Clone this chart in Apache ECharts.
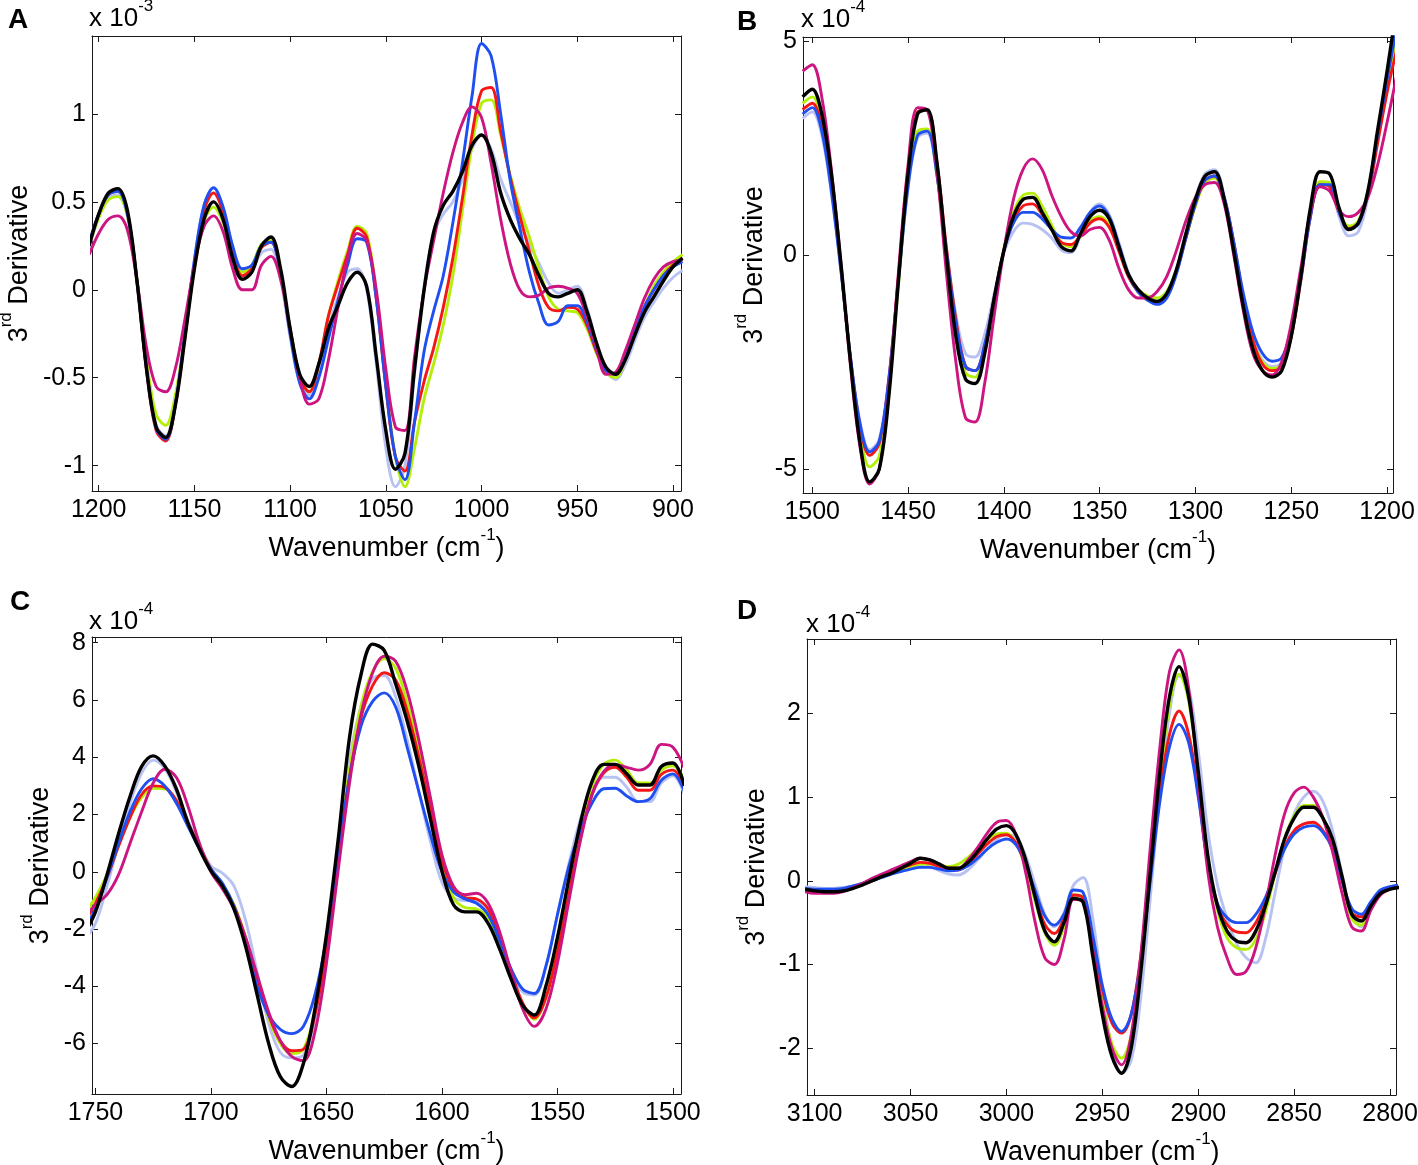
<!DOCTYPE html>
<html>
<head>
<meta charset="utf-8">
<script src="https://cdn.jsdelivr.net/npm/echarts@6/dist/echarts.min.js"></script>
<style>
html,body{margin:0;padding:0;background:#ffffff;}
#chart{width:1418px;height:1165px;}
</style>
</head>
<body>
<div id="chart"></div>
<script>
// ---------------- DATA ----------------
// Panel A (x 10^-3), wavenumber grid
const A_X = [1205,1200,1195,1190,1185,1180,1175,1170,1165,1160,
  1155,1150,1145,1140,1135,1130,1125,1120,1115,1110,
  1105,1100,1095,1090,1085,1080,1075,1070,1065,1060,
  1055,1050,1045,1040,1035,1030,1025,1020,1015,1010,
  1005,1000,995,990,985,980,975,970,965,960,
  955,950,945,940,935,930,925,920,915,910,
  905,900,895];
const A_BLACK = [0.25,0.43,0.55,0.575,0.45,0.05,-0.45,-0.78,-0.84,-0.66,
  -0.28,0.12,0.40,0.50,0.40,0.18,0.06,0.10,0.25,0.30,
  0.12,-0.22,-0.48,-0.55,-0.42,-0.22,-0.09,0.04,0.10,0.02,
  -0.38,-0.80,-1.02,-0.93,-0.45,0.00,0.33,0.48,0.56,0.67,
  0.82,0.88,0.78,0.55,0.40,0.29,0.20,0.08,-0.02,-0.04,
  -0.02,0.00,-0.12,-0.30,-0.44,-0.48,-0.40,-0.26,-0.13,-0.04,
  0.05,0.13,0.18];
const A_LIGHTBLUE = [0.24,0.41,0.52,0.54,0.42,0.04,-0.44,-0.77,-0.83,-0.64,
  -0.25,0.17,0.48,0.58,0.47,0.24,0.11,0.12,0.21,0.23,
  0.06,-0.27,-0.53,-0.60,-0.45,-0.22,-0.04,0.10,0.12,0.00,
  -0.42,-0.90,-1.12,-1.00,-0.48,0.02,0.32,0.43,0.50,0.63,
  0.80,0.88,0.80,0.63,0.50,0.37,0.26,0.15,0.04,-0.02,
  0.00,0.02,-0.10,-0.30,-0.46,-0.51,-0.43,-0.29,-0.16,-0.07,
  0.01,0.07,0.11];
const A_BLUE = [0.27,0.43,0.54,0.56,0.43,0.05,-0.45,-0.79,-0.85,-0.65,
  -0.25,0.17,0.48,0.58,0.47,0.25,0.12,0.14,0.25,0.27,
  0.10,-0.25,-0.53,-0.62,-0.50,-0.28,-0.06,0.14,0.29,0.27,
  -0.05,-0.55,-0.95,-1.08,-0.75,-0.35,-0.12,0.08,0.38,0.72,
  1.10,1.40,1.33,1.00,0.62,0.35,0.10,-0.08,-0.20,-0.18,
  -0.09,-0.09,-0.18,-0.34,-0.46,-0.48,-0.38,-0.24,-0.10,0.00,
  0.08,0.13,0.16];
const A_RED = [0.26,0.43,0.54,0.56,0.44,0.05,-0.46,-0.80,-0.86,-0.66,
  -0.27,0.14,0.45,0.55,0.44,0.21,0.08,0.12,0.24,0.27,
  0.10,-0.24,-0.50,-0.58,-0.42,-0.15,0.03,0.20,0.35,0.30,
  -0.05,-0.55,-0.95,-1.03,-0.75,-0.52,-0.33,-0.10,0.18,0.52,
  0.88,1.13,1.15,0.90,0.64,0.42,0.22,0.02,-0.10,-0.12,
  -0.10,-0.11,-0.20,-0.35,-0.46,-0.48,-0.38,-0.24,-0.10,0.00,
  0.08,0.14,0.18];
const A_GREEN = [0.25,0.41,0.51,0.53,0.42,0.06,-0.40,-0.71,-0.77,-0.60,
  -0.26,0.12,0.39,0.47,0.38,0.19,0.10,0.14,0.26,0.28,
  0.10,-0.24,-0.50,-0.58,-0.42,-0.15,0.05,0.22,0.36,0.32,
  -0.02,-0.52,-0.95,-1.12,-0.90,-0.62,-0.42,-0.20,0.08,0.45,
  0.82,1.06,1.08,0.88,0.65,0.46,0.30,0.12,-0.04,-0.11,
  -0.12,-0.13,-0.22,-0.36,-0.47,-0.50,-0.40,-0.25,-0.10,0.02,
  0.10,0.16,0.20];
const A_MAGENTA = [0.20,0.32,0.40,0.42,0.34,0.05,-0.33,-0.55,-0.58,-0.45,
  -0.17,0.14,0.36,0.42,0.33,0.12,0.00,0.00,0.14,0.19,
  0.06,-0.22,-0.50,-0.65,-0.62,-0.40,-0.10,0.18,0.32,0.28,
  0.00,-0.45,-0.78,-0.80,-0.38,0.00,0.28,0.55,0.78,0.95,
  1.04,0.98,0.72,0.40,0.15,0.00,-0.04,-0.03,0.01,0.02,
  0.01,-0.02,-0.15,-0.33,-0.48,-0.47,-0.35,-0.20,-0.05,0.06,
  0.13,0.16,0.17];
const A_XTICKS = [900,950,1000,1050,1100,1150,1200];
const A_YTICKS = [-1,-0.5,0,0.5,1];

// Panel B (x 10^-4)
const B_X = [1505,1500,1495,1490,1485,1480,1475,1470,1465,1460,
  1455,1450,1445,1440,1435,1430,1425,1420,1415,1410,
  1405,1400,1395,1390,1385,1380,1375,1370,1365,1360,
  1355,1350,1345,1340,1335,1330,1325,1320,1315,1310,
  1305,1300,1295,1290,1285,1280,1275,1270,1265,1260,
  1255,1250,1245,1240,1235,1230,1225,1220,1215,1210,
  1205,1200,1195];
const B_BLACK = [3.7,3.88,3.3,1.9,-0.2,-2.5,-4.4,-5.3,-5.0,-3.3,
  -0.6,1.9,3.3,3.4,2.2,0.0,-1.9,-2.9,-3.0,-2.3,
  -1.0,0.1,0.9,1.3,1.35,1.0,0.6,0.2,0.1,0.5,
  0.9,1.05,0.85,0.2,-0.45,-0.8,-1.0,-1.08,-0.9,-0.35,
  0.5,1.3,1.85,1.95,1.3,0.1,-1.2,-2.2,-2.7,-2.85,
  -2.7,-1.9,-0.5,1.1,1.95,1.9,1.1,0.6,0.75,1.5,
  2.9,4.3,5.8];
const B_MAGENTA = [4.3,4.45,3.7,2.0,-0.2,-2.6,-4.5,-5.35,-5.0,-3.2,
  -0.4,2.1,3.45,3.4,2.0,-0.4,-2.5,-3.8,-3.9,-3.0,
  -1.4,0.1,1.3,2.0,2.25,2.0,1.4,0.9,0.55,0.45,
  0.6,0.65,0.35,-0.3,-0.8,-1.0,-1.0,-0.85,-0.5,0.1,
  0.8,1.35,1.65,1.7,1.2,0.0,-1.3,-2.3,-2.7,-2.8,
  -2.5,-1.6,-0.3,1.0,1.6,1.5,1.05,0.9,1.0,1.35,
  2.1,3.1,4.2];
const B_RED = [3.4,3.55,3.0,1.6,-0.3,-2.4,-4.0,-4.68,-4.4,-2.9,
  -0.5,2.0,3.35,3.4,2.2,0.2,-1.5,-2.6,-2.7,-2.1,
  -1.0,0.1,0.8,1.15,1.2,0.95,0.6,0.3,0.25,0.45,
  0.75,0.85,0.65,0.1,-0.5,-0.85,-1.05,-1.1,-0.95,-0.4,
  0.4,1.2,1.75,1.85,1.35,0.3,-1.0,-2.0,-2.55,-2.7,
  -2.6,-1.9,-0.6,0.9,1.65,1.6,1.0,0.62,0.75,1.4,
  2.6,3.8,4.8];
const B_GREEN = [3.55,3.7,3.15,1.75,-0.3,-2.5,-4.2,-4.95,-4.7,-3.1,
  -0.7,1.7,2.9,2.95,1.9,0.0,-1.7,-2.75,-2.85,-2.2,
  -1.0,0.15,1.0,1.4,1.45,1.15,0.7,0.3,0.2,0.45,
  0.8,0.9,0.7,0.15,-0.45,-0.8,-0.95,-1.0,-0.85,-0.35,
  0.4,1.15,1.7,1.8,1.3,0.2,-1.05,-2.0,-2.5,-2.65,
  -2.55,-1.8,-0.45,1.0,1.72,1.7,1.0,0.68,0.8,1.5,
  2.8,4.0,5.1];
const B_BLUE = [3.3,3.45,2.9,1.5,-0.35,-2.4,-3.95,-4.6,-4.35,-2.9,
  -0.6,1.6,2.8,2.9,1.9,0.1,-1.6,-2.6,-2.7,-2.1,
  -1.0,0.1,0.75,1.0,1.0,0.85,0.6,0.42,0.4,0.65,
  1.0,1.15,0.9,0.25,-0.45,-0.85,-1.05,-1.15,-1.0,-0.45,
  0.4,1.2,1.75,1.85,1.35,0.3,-0.9,-1.8,-2.3,-2.48,
  -2.4,-1.75,-0.55,0.9,1.65,1.65,1.0,0.6,0.72,1.45,
  2.8,4.1,5.3];
const B_LIGHTBLUE = [3.2,3.35,2.8,1.45,-0.4,-2.4,-3.9,-4.55,-4.3,-2.85,
  -0.6,1.55,2.75,2.85,1.9,0.15,-1.4,-2.3,-2.38,-1.85,
  -0.9,0.05,0.55,0.75,0.72,0.6,0.4,0.12,0.06,0.45,
  1.0,1.2,0.95,0.3,-0.4,-0.85,-1.05,-1.15,-1.0,-0.4,
  0.5,1.35,1.9,2.0,1.4,0.25,-1.0,-1.95,-2.45,-2.6,
  -2.5,-1.8,-0.5,1.0,1.7,1.65,0.9,0.45,0.55,1.35,
  2.8,4.2,5.3];
const B_XTICKS = [1200,1250,1300,1350,1400,1450,1500];
const B_YTICKS = [-5,0,5];

// Panel C (x 10^-4)
const C_X = [1755,1750,1745,1740,1735,1730,1725,1720,1715,1710,
  1705,1700,1695,1690,1685,1680,1675,1670,1665,1660,
  1655,1650,1645,1640,1635,1630,1625,1620,1615,1610,
  1605,1600,1595,1590,1585,1580,1575,1570,1565,1560,
  1555,1550,1545,1540,1535,1530,1525,1520,1515,1510,
  1505,1500,1495];
const C_BLACK = [-2.2,-1.4,-0.1,1.33,2.64,3.68,4.05,3.7,2.9,1.72,
  0.8,0.03,-0.5,-1.3,-2.6,-4.3,-6.0,-7.15,-7.5,-6.7,
  -4.8,-2.2,1.07,4.7,6.9,7.95,7.73,6.55,5.25,3.68,
  1.85,0.03,-1.15,-1.4,-1.4,-1.8,-2.7,-3.76,-4.67,-5.0,
  -4.0,-2.3,-0.23,1.72,3.16,3.75,3.75,3.42,3.03,3.03,
  3.68,3.8,3.0];
const C_LIGHTBLUE = [-2.4,-1.8,-0.5,1.0,2.4,3.45,3.9,3.6,2.8,1.8,
  0.9,0.2,-0.05,-0.5,-1.7,-3.5,-5.3,-6.3,-6.5,-6.4,
  -5.2,-2.6,0.8,3.9,5.8,6.75,6.85,6.1,4.6,2.8,
  1.07,-0.37,-0.9,-1.0,-1.0,-1.5,-2.5,-3.5,-4.2,-4.3,
  -3.3,-1.5,0.3,1.85,2.9,3.3,3.3,2.95,2.45,2.45,
  3.1,3.35,2.7];
const C_BLUE = [-2.0,-1.3,-0.2,1.0,2.1,2.9,3.25,3.0,2.4,1.6,
  0.8,0.1,-0.4,-1.2,-2.5,-4.0,-5.0,-5.5,-5.65,-5.4,
  -4.3,-2.3,0.6,3.3,5.1,5.95,6.25,5.75,4.33,2.8,
  1.3,0.0,-0.7,-0.95,-1.1,-1.5,-2.4,-3.4,-4.1,-4.25,
  -3.3,-1.5,0.2,1.46,2.4,2.9,2.92,2.65,2.45,2.55,
  3.2,3.42,2.8];
const C_RED = [-1.8,-1.1,-0.2,0.9,1.9,2.7,3.0,2.95,2.5,1.7,
  0.9,0.1,-0.5,-1.2,-2.3,-3.7,-5.0,-5.9,-6.25,-6.2,
  -5.0,-2.7,0.3,3.3,5.4,6.5,6.95,6.7,5.6,4.0,
  2.2,0.4,-0.6,-0.9,-0.95,-1.3,-2.3,-3.5,-4.6,-5.1,
  -4.4,-2.8,-0.8,1.2,2.7,3.45,3.65,3.3,2.85,2.85,
  3.4,3.55,3.0];
const C_GREEN = [-1.5,-0.9,-0.1,0.9,1.9,2.6,2.92,2.9,2.45,1.65,
  0.85,0.1,-0.45,-1.15,-2.3,-3.7,-5.1,-6.0,-6.35,-6.2,
  -4.9,-2.5,0.6,3.6,5.8,7.0,7.45,7.1,5.9,4.2,
  2.3,0.4,-0.9,-1.25,-1.3,-1.6,-2.5,-3.6,-4.6,-5.15,
  -4.4,-2.7,-0.6,1.4,3.0,3.75,3.9,3.55,3.1,3.1,
  3.55,3.7,3.2];
const C_MAGENTA = [-1.6,-1.15,-0.8,-0.1,1.0,2.1,3.1,3.58,3.3,2.3,
  1.0,0.0,-0.6,-1.3,-2.3,-3.6,-4.9,-5.9,-6.45,-6.6,
  -5.6,-3.2,0.0,3.1,5.5,6.95,7.53,7.35,6.3,4.6,
  2.6,0.6,-0.5,-0.8,-0.75,-1.1,-2.1,-3.5,-4.8,-5.4,
  -4.8,-3.2,-1.0,1.1,2.7,3.5,3.75,3.65,3.55,3.75,
  4.45,4.35,3.6];
const C_XTICKS = [1500,1550,1600,1650,1700,1750];
const C_YTICKS = [-6,-4,-2,0,2,4,6,8];

// Panel D (x 10^-4)
const D_X = [3105,3100,3095,3090,3085,3080,3075,3070,3065,3060,
  3055,3050,3045,3040,3035,3030,3025,3020,3015,3010,
  3005,3000,2995,2990,2985,2980,2975,2970,2965,2960,
  2955,2950,2945,2940,2935,2930,2925,2920,2915,2910,
  2905,2900,2895,2890,2885,2880,2875,2870,2865,2860,
  2855,2850,2845,2840,2835,2830,2825,2820,2815,2810,
  2805,2800,2795];
const D_BLACK = [-0.10,-0.12,-0.13,-0.13,-0.12,-0.09,-0.05,0.00,0.05,0.09,
  0.15,0.21,0.27,0.25,0.20,0.15,0.15,0.22,0.35,0.50,
  0.62,0.66,0.55,0.25,-0.20,-0.60,-0.73,-0.50,-0.21,-0.26,
  -0.90,-1.60,-2.10,-2.30,-2.00,-1.10,0.10,1.30,2.20,2.56,
  2.20,1.30,0.30,-0.30,-0.60,-0.72,-0.74,-0.60,-0.30,0.10,
  0.50,0.75,0.88,0.88,0.75,0.50,0.05,-0.40,-0.48,-0.30,
  -0.15,-0.10,-0.08];
const D_MAGENTA = [-0.13,-0.15,-0.15,-0.15,-0.13,-0.08,-0.03,0.03,0.08,0.13,
  0.18,0.23,0.27,0.25,0.20,0.15,0.15,0.25,0.40,0.57,
  0.70,0.72,0.55,0.10,-0.50,-0.92,-1.00,-0.70,-0.22,-0.25,
  -0.85,-1.50,-2.00,-2.20,-1.85,-0.90,0.40,1.60,2.50,2.76,
  2.30,1.20,0.10,-0.55,-0.92,-1.12,-1.08,-0.80,-0.30,0.30,
  0.80,1.05,1.12,1.00,0.75,0.35,-0.15,-0.55,-0.60,-0.35,
  -0.17,-0.10,-0.08];
const D_RED = [-0.11,-0.12,-0.12,-0.12,-0.11,-0.08,-0.04,0.00,0.05,0.10,
  0.15,0.19,0.22,0.21,0.17,0.13,0.13,0.20,0.32,0.44,
  0.53,0.55,0.45,0.20,-0.18,-0.52,-0.63,-0.45,-0.17,-0.21,
  -0.75,-1.30,-1.70,-1.82,-1.60,-0.90,0.10,1.05,1.75,2.03,
  1.75,1.05,0.20,-0.30,-0.52,-0.61,-0.62,-0.50,-0.25,0.08,
  0.40,0.60,0.68,0.70,0.60,0.40,0.00,-0.38,-0.43,-0.28,
  -0.13,-0.08,-0.06];
const D_GREEN = [-0.11,-0.12,-0.12,-0.12,-0.10,-0.07,-0.03,0.01,0.05,0.09,
  0.13,0.17,0.20,0.20,0.18,0.17,0.20,0.28,0.38,0.49,
  0.56,0.57,0.45,0.15,-0.25,-0.62,-0.77,-0.55,-0.17,-0.20,
  -0.80,-1.45,-1.95,-2.12,-1.85,-1.05,0.05,1.20,2.10,2.47,
  2.15,1.25,0.25,-0.35,-0.68,-0.80,-0.82,-0.70,-0.38,0.08,
  0.50,0.78,0.90,0.90,0.75,0.48,0.02,-0.45,-0.53,-0.32,
  -0.15,-0.09,-0.07];
const D_BLUE = [-0.09,-0.10,-0.10,-0.10,-0.09,-0.06,-0.03,0.00,0.04,0.08,
  0.11,0.14,0.16,0.16,0.14,0.12,0.13,0.18,0.27,0.38,
  0.46,0.50,0.43,0.20,-0.12,-0.42,-0.53,-0.40,-0.11,-0.14,
  -0.65,-1.25,-1.65,-1.80,-1.60,-0.95,0.00,0.95,1.60,1.87,
  1.65,1.00,0.20,-0.27,-0.44,-0.50,-0.50,-0.40,-0.20,0.10,
  0.38,0.56,0.64,0.66,0.58,0.38,0.00,-0.33,-0.40,-0.25,
  -0.11,-0.07,-0.05];
const D_LIGHTBLUE = [-0.07,-0.08,-0.09,-0.09,-0.08,-0.06,-0.03,0.01,0.05,0.09,
  0.13,0.17,0.19,0.17,0.12,0.08,0.07,0.13,0.25,0.38,
  0.50,0.55,0.52,0.30,-0.05,-0.40,-0.55,-0.38,-0.05,0.04,
  -0.45,-1.30,-2.00,-2.30,-2.15,-1.40,-0.20,1.05,2.00,2.45,
  2.30,1.55,0.60,-0.05,-0.45,-0.75,-0.92,-0.98,-0.70,-0.15,
  0.40,0.80,1.00,1.07,0.95,0.60,0.08,-0.42,-0.55,-0.35,
  -0.15,-0.08,-0.05];
const D_XTICKS = [2800,2850,2900,2950,3000,3050,3100];
const D_YTICKS = [-2,-1,0,1,2];

// ---------------- STYLE / LAYOUT ----------------
const FONT = "'Liberation Sans', Arial, Helvetica, sans-serif";
const ORDER = ['lightblue','green','red','blue','magenta','black'];
const COLORS = {lightblue:'#b8c2f2', green:'#b4ef0a', red:'#f51616', blue:'#1f4ff0', magenta:'#cc1580', black:'#000000'};
const WIDTHS = {lightblue:2.9, green:2.9, red:2.9, blue:2.9, magenta:2.9, black:3.4};
const FRAME = '#1a1a1a';

const PANELS = [
  {letter:'A', exp:'-3', x:A_X, ys:{lightblue:A_LIGHTBLUE,green:A_GREEN,red:A_RED,blue:A_BLUE,magenta:A_MAGENTA,black:A_BLACK},
   xTicks:A_XTICKS, yTicks:A_YTICKS, xMin:895.8, xMax:1203.5, yMin:-1.144, yMax:1.443,
   box:{left:92,top:36,width:589,height:455}, yGap:59, letterAt:[8,6], expAt:[89,-2]},
  {letter:'B', exp:'-4', x:B_X, ys:{lightblue:B_LIGHTBLUE,green:B_GREEN,red:B_RED,blue:B_BLUE,magenta:B_MAGENTA,black:B_BLACK},
   xTicks:B_XTICKS, yTicks:B_YTICKS, xMin:1196.9, xMax:1504.8, yMin:-5.56, yMax:5.1,
   box:{left:803,top:37,width:590,height:456}, yGap:35, letterAt:[737,8], expAt:[801,-1]},
  {letter:'C', exp:'-4', x:C_X, ys:{lightblue:C_LIGHTBLUE,green:C_GREEN,red:C_RED,blue:C_BLUE,magenta:C_MAGENTA,black:C_BLACK},
   xTicks:C_XTICKS, yTicks:C_YTICKS, xMin:1496.5, xMax:1751.5, yMin:-7.76, yMax:8.2,
   box:{left:92,top:637,width:589,height:457}, yGap:38, letterAt:[10,588], expAt:[89,601]},
  {letter:'D', exp:'-4', x:D_X, ys:{lightblue:D_LIGHTBLUE,green:D_GREEN,red:D_RED,blue:D_BLUE,magenta:D_MAGENTA,black:D_BLACK},
   xTicks:D_XTICKS, yTicks:D_YTICKS, xMin:2796.9, xMax:3104, yMin:-2.56, yMax:2.89,
   box:{left:807,top:639,width:589,height:456}, yGap:37, letterAt:[737,597], expAt:[806,604]}
];

const richTitle = {
  n:{fontSize:27, fontFamily:FONT, color:'#000', lineHeight:35, verticalAlign:'bottom'},
  s:{fontSize:17, fontFamily:FONT, color:'#000', lineHeight:20, verticalAlign:'top'}
};

const grids = [], xAxes = [], yAxes = [], series = [], graphics = [];
const problems = [];
PANELS.forEach((p, i) => {
  grids.push(Object.assign({outerBoundsMode:'none', containLabel:false}, p.box));
  const fmt = v => String(v);
  const baseLine = {show:true, onZero:false, lineStyle:{color:FRAME, width:1}};
  // bottom axis (labels)
  xAxes.push({gridIndex:i, type:'value', inverse:true, min:p.xMin, max:p.xMax, position:'bottom',
    axisLine:baseLine,
    axisTick:{show:true, inside:true, length:6, customValues:p.xTicks, lineStyle:{color:FRAME}},
    axisLabel:{show:true, customValues:p.xTicks, formatter:fmt, margin:7, fontSize:25, color:'#000', fontFamily:FONT},
    splitLine:{show:false},
    name:'{n|Wavenumber (cm}{s|-1}{n|)}', nameLocation:'middle', nameGap:36,
    nameTextStyle:{fontSize:27, fontFamily:FONT, color:'#000', rich:richTitle}
  });
  // top axis (frame + ticks)
  xAxes.push({gridIndex:i, type:'value', inverse:true, min:p.xMin, max:p.xMax, position:'top',
    axisLine:baseLine,
    axisTick:{show:true, inside:true, length:6, customValues:p.xTicks, lineStyle:{color:FRAME}},
    axisLabel:{show:false}, splitLine:{show:false}
  });
  // left axis (labels)
  yAxes.push({gridIndex:i, type:'value', min:p.yMin, max:p.yMax, position:'left',
    axisLine:baseLine,
    axisTick:{show:true, inside:true, length:6, customValues:p.yTicks, lineStyle:{color:FRAME}},
    axisLabel:{show:true, customValues:p.yTicks, formatter:fmt, margin:6, fontSize:25, color:'#000', fontFamily:FONT},
    splitLine:{show:false},
    name:'{n|3}{s|rd}{n| Derivative}', nameLocation:'middle', nameGap:p.yGap,
    nameTextStyle:{fontSize:27, fontFamily:FONT, color:'#000', rich:richTitle}
  });
  // right axis (frame + ticks)
  yAxes.push({gridIndex:i, type:'value', min:p.yMin, max:p.yMax, position:'right',
    axisLine:baseLine,
    axisTick:{show:true, inside:true, length:6, customValues:p.yTicks, lineStyle:{color:FRAME}},
    axisLabel:{show:false}, splitLine:{show:false}
  });
  ORDER.forEach(k => {
    const ys = p.ys[k];
    if (ys.length !== p.x.length) problems.push(p.letter + ' ' + k + ' ' + ys.length + '/' + p.x.length);
    series.push({
      name: p.letter + '-' + k, type:'line', xAxisIndex:2*i, yAxisIndex:2*i,
      data: p.x.map((xv, j) => [xv, ys[j]]),
      smooth:0.35, symbol:'none', showSymbol:false, clip:true, silent:true,
      lineStyle:{color:COLORS[k], width:WIDTHS[k]}, z: 2
    });
  });
  graphics.push({type:'text', left:p.letterAt[0], top:p.letterAt[1],
    style:{text:p.letter, font:"bold 28px " + FONT, fill:'#000'}});
  graphics.push({type:'text', left:p.expAt[0], top:p.expAt[1],
    style:{text:'{n|x 10}{s|' + p.exp + '}', fill:'#000',
      rich:{n:{fontSize:26, fontFamily:FONT, fill:'#000', lineHeight:34, verticalAlign:'bottom'},
            s:{fontSize:17, fontFamily:FONT, fill:'#000', lineHeight:20, verticalAlign:'top'}}}});
});
if (problems.length) {
  graphics.push({type:'text', left:600, top:560, style:{text:'LEN: ' + problems.join('; '), font:'14px sans-serif', fill:'red'}});
}

const chart = echarts.init(document.getElementById('chart'), null, {renderer:'canvas'});
chart.setOption({
  animation:false,
  backgroundColor:'#ffffff',
  grid:grids, xAxis:xAxes, yAxis:yAxes, series:series, graphic:graphics
});
</script>
</body>
</html>
